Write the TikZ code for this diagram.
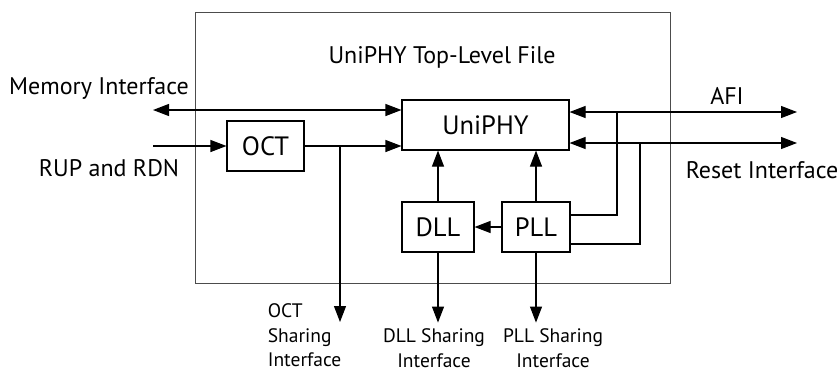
\documentclass[tikz,border=0pt]{standalone}
\usepackage{fontspec}
\setmainfont{PT Sans}
\usetikzlibrary{arrows.meta}
\tikzset{
  blk/.style={draw,line width=1.1pt,inner sep=0pt,minimum height=50pt,font=\fontsize{26.5}{28}\selectfont},
  lbl/.style={font=\fontsize{24}{26}\selectfont},
  sml/.style={font=\fontsize{19.5}{24.5}\selectfont,align=center},
  >={Triangle[length=16pt,width=12pt]}
}
\begin{document}
\begin{tikzpicture}[x=1pt,y=-1pt,line width=1.1pt]
    \useasboundingbox (0,0) rectangle (837,373);
    % frame and blocks
    \node[draw=black!70,line width=1pt,minimum width=475pt,minimum height=271pt] (top) at (432.5,147.5) {};
    \node[lbl] (title) at (442,57) {UniPHY Top-Level File};
    \node[blk,minimum width=167pt] (uniphy) at (485.5,125) {UniPHY};
    \node[blk,minimum width=77pt] (oct) at (265.5,146) {OCT};
    \node[blk,minimum width=72pt] (dll) at (438,227) {DLL};
    \node[blk,minimum width=68pt] (pll) at (536,227) {PLL};
    \coordinate (mem) at (153,110);
    \coordinate (rup) at (153,146);
    \coordinate (afi) at (797,112);
    \coordinate (rst) at (797,143);
    \coordinate (octbr) at (340,146);
    % outside labels
    \node[lbl] (memlbl) at (99,88) {Memory Interface};
    \node[lbl] (ruplbl) at (109,168) {RUP and RDN};
    \node[lbl] (afilbl) at (727,96) {AFI};
    \node[lbl] (rstlbl) at (762,170) {Reset Interface};
    \node[sml,align=left,anchor=north west] (octlbl) at (264,300) {OCT\\Sharing\\Interface};
    \node[sml,anchor=north] (dlllbl) at (434,325) {DLL Sharing\\Interface};
    \node[sml,anchor=north] (plllbl) at (553,325) {PLL Sharing\\Interface};
    % connectors
    \draw[<->] (mem) -- (mem -| uniphy.west);
    \draw[->] (rup) -- (oct.west);
    \draw[->] (oct.east) -- (oct.east -| uniphy.west);
    \draw[->] (octbr) -- +(0,176);
    \foreach \n in {dll,pll}
      {\draw[->] (\n.north) -- (\n.north |- uniphy.south);
       \draw[->] (\n.south) -- +(0,70);}
    \draw[->] (pll.west) -- (dll.east);
    \draw[<->] (afi -| uniphy.east) -- (afi);
    \draw[<->] (rst -| uniphy.east) -- (rst);
    \draw (pll.east |- 0,215) -| (617,112);
    \draw (pll.east |- 0,244) -| (640,143);
\end{tikzpicture}
\end{document}
